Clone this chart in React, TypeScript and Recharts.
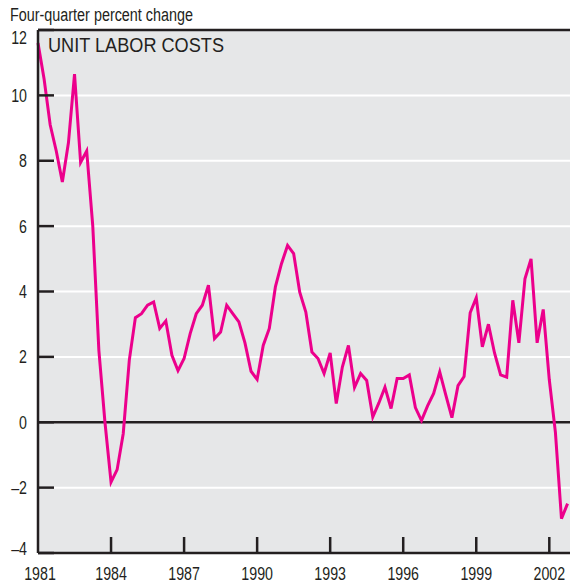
import { LineChart, Line, XAxis, YAxis, CartesianGrid, ReferenceLine } from "recharts";

// Four-quarter percent change in unit labor costs, quarterly from 1981Q1
const startYear = 1981;
const ulcValues = [
  11.6, 10.5, 9.1, 8.3, 7.35, 8.55, 10.65, 7.95,
  8.3, 6.0, 2.2, 0.0, -1.83, -1.45, -0.35, 1.9,
  3.2, 3.32, 3.58, 3.68, 2.87, 3.1, 2.05, 1.58,
  1.95, 2.71, 3.32, 3.58, 4.19, 2.56, 2.76, 3.58,
  3.32, 3.07, 2.43, 1.56, 1.31, 2.35, 2.87, 4.14,
  4.85, 5.41, 5.16, 3.98, 3.37, 2.15, 1.95, 1.49,
  2.12, 0.57, 1.69, 2.35, 1.07, 1.49, 1.28, 0.16,
  0.59, 1.07, 0.42, 1.34, 1.34, 1.45, 0.45, 0.05,
  0.5, 0.88, 1.54, 0.83, 0.14, 1.12, 1.4, 3.35,
  3.81, 2.31, 3.0, 2.12, 1.45, 1.38, 3.73, 2.43,
  4.39, 5.0, 2.43, 3.45, 1.3, -0.3, -2.95, -2.49,
];
const yearTicks = [1981, 1984, 1987, 1990, 1993, 1996, 1999, 2002];
const valueTicks = [-4, -2, 0, 2, 4, 6, 8, 10, 12];

const data = ulcValues.map((v, i) => ({ t: startYear + i / 4, v }));

const INK = "#231f20";
const PINK = "#ec008c";
const PANEL = "#e6e7e8";
const SANS = '"Liberation Sans", Arial, sans-serif';
const DIGIT_W = 7.9; // condensed look: squeeze each glyph to this width

const YTick = (props: any) => {
  const { x, y, payload } = props;
  const v = payload.value;
  const dy = v === 12 ? 13.5 : v === -4 ? 2 : 6.5;
  const label = v < 0 ? `\u2013${Math.abs(v)}` : String(v);
  return (
    <g>
      <line x1={x + 11} x2={x + 27} y1={y} y2={y} stroke={INK} strokeWidth={2.5} />
      <text
        x={x}
        y={y + dy}
        textAnchor="end"
        fontFamily={SANS}
        fontSize={18}
        fill={INK}
        textLength={label.length * DIGIT_W}
        lengthAdjust="spacingAndGlyphs"
      >
        {label}
      </text>
    </g>
  );
};

const XTick = (props: any) => {
  const { x, y, payload } = props;
  const first = payload.value === startYear;
  const label = String(payload.value);
  return (
    <g>
      {!first && <line x1={x} x2={x} y1={y} y2={y - 16} stroke={INK} strokeWidth={2.5} />}
      <text
        x={x + (first ? 2 : 0)}
        y={y + 27}
        textAnchor="middle"
        fontFamily={SANS}
        fontSize={18}
        fill={INK}
        textLength={label.length * DIGIT_W}
        lengthAdjust="spacingAndGlyphs"
      >
        {label}
      </text>
    </g>
  );
};

export default function App() {
  return (
    <div style={{ position: "absolute", left: 0, top: 0, width: 570, height: 584, background: "#fff" }}>
      <LineChart width={570} height={584} data={data} margin={{ top: 30, right: 0, bottom: 0, left: 0 }}>
        <CartesianGrid fill={PANEL} stroke="#ffffff" strokeWidth={2} vertical={false} />
        <XAxis
          dataKey="t"
          type="number"
          domain={[1981, 2002.85]}
          ticks={yearTicks}
          interval={0}
          height={31}
          tickSize={0}
          tickMargin={0}
          tickLine={false}
          axisLine={{ stroke: INK, strokeWidth: 2.5 }}
          tick={<XTick />}
        />
        <YAxis
          type="number"
          domain={[-4, 12]}
          ticks={valueTicks}
          interval={0}
          width={38}
          tickSize={0}
          tickMargin={11}
          tickLine={false}
          axisLine={{ stroke: INK, strokeWidth: 2.5 }}
          tick={<YTick />}
        />
        <ReferenceLine y={0} stroke={INK} strokeWidth={2.5} />
        <ReferenceLine y={12} stroke={INK} strokeWidth={2.5} />
        <Line
          type="linear"
          dataKey="v"
          stroke={PINK}
          strokeWidth={3}
          dot={false}
          isAnimationActive={false}
        />
      </LineChart>
      <svg width={570} height={584} style={{ position: "absolute", left: 0, top: 0, pointerEvents: "none" }}>
        <text
          x={10}
          y={21}
          fontFamily={SANS}
          fontSize={18}
          fill={INK}
          textLength={183}
          lengthAdjust="spacingAndGlyphs"
        >
          Four-quarter percent change
        </text>
        <text
          x={48}
          y={51.5}
          fontFamily={SANS}
          fontSize={20}
          fill={INK}
          textLength={176}
          lengthAdjust="spacingAndGlyphs"
        >
          UNIT LABOR COSTS
        </text>
      </svg>
    </div>
  );
}
